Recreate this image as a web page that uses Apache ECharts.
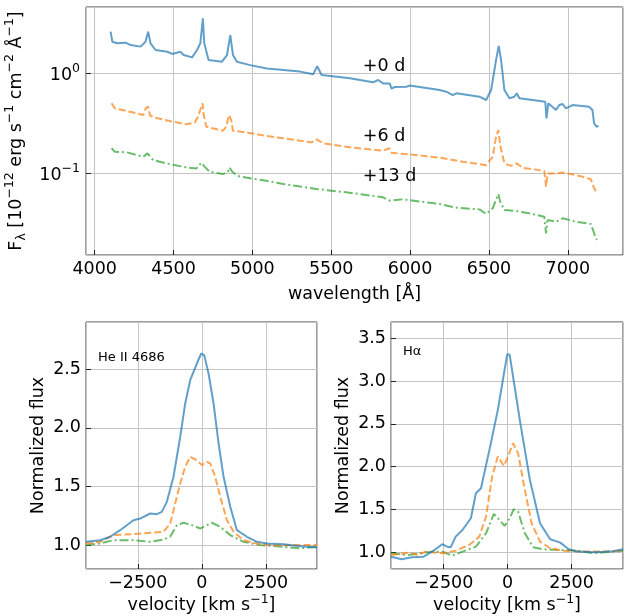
<!DOCTYPE html>
<html><head><meta charset="utf-8">
<script src="https://cdn.jsdelivr.net/npm/echarts@6/dist/echarts.min.js"></script>
<style>html,body{margin:0;padding:0;background:#fff}#c{width:628px;height:616px}</style>
</head><body><div id="c"></div>
<script>
// ---- Top panel: spectra (wavelength [Å], flux [1e-12 erg/s/cm2/Å]) ----
const wl0 = [4101,4112,4143,4196,4228,4291,4322,4339,4354,4386,4460,4491,4544,4564,4618,4649,4670,4686,4695,4722,4807,4839,4860,4877,4902,4986,5092,5197,5302,5386,5411,5439,5618,5765,5797,5829,5871,5882,5903,5977,5997,6187,6229,6271,6293,6440,6482,6514,6545,6562,6577,6598,6630,6661,6676,6693,6777,6857,6865,6876,6925,6946,6967,6988,7030,7135,7156,7167,7182,7195];
const fx0 = [2.64,2.09,2.02,2.05,1.94,1.87,2.09,2.64,2.02,1.73,1.66,1.58,1.66,1.54,1.46,1.73,2.02,3.59,2.02,1.37,1.32,1.54,2.44,1.54,1.32,1.22,1.13,1.09,1.05,0.99,1.19,0.97,0.90,0.82,0.865,0.80,0.80,0.71,0.736,0.74,0.76,0.687,0.66,0.61,0.636,0.588,0.545,0.687,1.37,1.90,1.37,0.687,0.567,0.588,0.636,0.567,0.545,0.524,0.357,0.505,0.433,0.485,0.497,0.45,0.485,0.467,0.433,0.318,0.294,0.30];
const wl6 = [4107,4128,4223,4308,4324,4339,4350,4371,4497,4582,4634,4655,4684,4691,4708,4814,4834,4851,4866,4877,5003,5076,5197,5376,5408,5449,5618,5829,5867,5882,5997,6187,6334,6482,6524,6545,6560,6573,6598,6640,6676,6714,6851,6862,6872,6925,6967,7051,7093,7146,7163,7184];
const fx6 = [0.505,0.450,0.416,0.385,0.450,0.467,0.385,0.365,0.330,0.311,0.323,0.371,0.505,0.385,0.294,0.268,0.294,0.385,0.343,0.268,0.252,0.239,0.225,0.205,0.220,0.200,0.183,0.169,0.179,0.161,0.155,0.144,0.131,0.121,0.147,0.233,0.272,0.185,0.126,0.119,0.126,0.114,0.106,0.0736,0.100,0.100,0.102,0.0964,0.0927,0.0873,0.0736,0.0631];
const wl13 = [4107,4128,4202,4308,4335,4371,4476,4582,4645,4676,4697,4729,4814,4845,4855,4872,4908,4986,5087,5197,5408,5618,5829,5871,5955,6187,6293,6440,6482,6524,6552,6560,6571,6598,6672,6756,6851,6862,6872,6925,6967,7051,7146,7167,7184];
const fx13 = [0.179,0.165,0.163,0.147,0.159,0.136,0.124,0.115,0.112,0.128,0.117,0.104,0.0986,0.104,0.115,0.104,0.0942,0.0893,0.0845,0.0783,0.0698,0.0640,0.0576,0.0532,0.0550,0.0493,0.0453,0.0436,0.0392,0.0447,0.0584,0.0621,0.0520,0.0430,0.0420,0.0398,0.0368,0.0251,0.0341,0.0328,0.0355,0.0328,0.0311,0.0251,0.0215];
const epochLabels = ['+0 d','+6 d','+13 d'];
const epochLabelX = 5700;
const epochLabelY = [1.0, 0.2, 0.08];

// ---- He II 4686 profiles (velocity km/s, normalized flux) ----
const heV0 = [-4518,-3971,-3581,-3190,-2669,-2409,-2018,-1758,-1562,-1367,-1107,-846,-651,-456,-195,-26,91,260,456,651,846,1107,1367,1758,2148,2539,3190,3841,4492];
const heF0 = [1.031,1.045,1.074,1.130,1.215,1.229,1.272,1.266,1.286,1.371,1.584,1.923,2.207,2.405,2.547,2.632,2.618,2.462,2.207,1.867,1.584,1.329,1.130,1.074,1.031,1.017,1.011,0.994,0.983];
const heV6 = [-4518,-3971,-3450,-2669,-2018,-1497,-1237,-1042,-846,-651,-456,-195,0,195,326,521,716,977,1237,1627,2148,2799,3580,4492];
const heF6 = [1.017,1.031,1.088,1.096,1.108,1.116,1.187,1.357,1.527,1.669,1.754,1.725,1.683,1.711,1.697,1.584,1.414,1.215,1.116,1.045,1.017,1.000,1.003,1.003];
const heV13 = [-4518,-3971,-3450,-2669,-2018,-1497,-1237,-976,-716,-391,-65,195,391,716,1107,1627,2278,3190,3841,4492];
const heF13 = [1.003,1.017,1.045,1.045,1.031,1.051,1.074,1.173,1.193,1.173,1.144,1.173,1.193,1.159,1.088,1.031,1.003,0.989,0.975,0.989];

// ---- H-alpha profiles ----
const haV0 = [-4560,-4142,-3746,-3284,-2823,-2559,-2361,-2229,-2031,-1767,-1438,-1240,-1042,-712,-383,-119,-13,79,211,475,870,1266,1662,2058,2388,2717,3377,4036,4510];
const haF0 = [0.949,0.918,0.942,0.949,1.035,1.094,1.066,1.058,1.183,1.261,1.398,1.690,1.748,2.196,2.664,3.132,3.315,3.307,3.054,2.547,1.846,1.339,1.152,1.113,1.035,1.008,1.000,1.008,1.035];
const haV6 = [-4560,-3878,-3482,-3218,-2559,-2031,-1504,-1108,-844,-607,-383,-145,13,211,409,673,936,1266,1662,2190,2981,3772,4510];
const haF6 = [0.969,0.996,0.969,1.008,0.988,1.019,1.086,1.183,1.417,1.885,2.118,2.009,2.118,2.274,2.157,1.729,1.339,1.125,1.047,1.019,1.008,1.008,1.019];
const haV13 = [-4560,-3878,-3218,-2559,-2163,-1767,-1240,-844,-541,-317,-119,79,237,409,673,1002,1398,2058,2717,3377,4036,4510];
const haF13 = [0.988,0.969,1.000,1.008,0.961,1.008,1.066,1.222,1.448,1.378,1.308,1.398,1.503,1.475,1.222,1.058,1.035,1.027,1.019,0.988,1.008,1.019];

const FONT = 'DejaVu Sans';
const FS = 17.5, FSUP = 12.5;
const C0 = 'rgba(31,119,180,0.7)', C6 = 'rgba(255,127,14,0.7)', C13 = 'rgba(44,160,44,0.7)';
const LW = 2;
const styles = [
  {color: C0, width: LW, type: 'solid'},
  {color: C6, width: LW, type: [7, 3]},
  {color: C13, width: LW, type: [9, 3, 2, 3]}
];
function zip(a, b) { return a.map((v, i) => [v, b[i]]); }
function minusFmt(v) { return v < 0 ? '\u2212' + Math.abs(v) : String(v); }

const tickStyle = {show: true, inside: true, length: 5, lineStyle: {color: '#222', width: 1}};
const splitStyle = {show: true, lineStyle: {color: '#c4c4c4', width: 1}};
const noLine = {show: false, onZero: false};
const labelBase = {color: '#000', fontFamily: FONT, fontSize: FS};
const rich = {
  n: {fontFamily: FONT, fontSize: FS, color: '#000', lineHeight: 22, verticalAlign: 'bottom'},
  sup: {fontFamily: FONT, fontSize: FSUP, color: '#000', lineHeight: 22, verticalAlign: 'top'},
  sub: {fontFamily: FONT, fontSize: FSUP, color: '#000', lineHeight: 22, verticalAlign: 'bottom', padding: [0,0,-3,0]}
};

const grids = [
  {left: 86, top: 7, width: 537, height: 248},
  {left: 86, top: 322, width: 231, height: 247},
  {left: 391, top: 322, width: 232, height: 247}
].map(g => Object.assign(g, {show: true, containLabel: false, outerBoundsMode: 'none', borderColor: '#3c3c3c', borderWidth: 1, backgroundColor: 'transparent'}));

const xAxes = [
  {gridIndex: 0, type: 'value', min: 3945, max: 7350, minInterval: 500, maxInterval: 500,
   name: '{n|wavelength [Å]}', nameLocation: 'middle', nameGap: 26, nameTextStyle: {rich},
   axisLine: noLine, axisTick: tickStyle, splitLine: splitStyle,
   axisLabel: Object.assign({}, labelBase, {margin: 5, showMinLabel: false, showMaxLabel: false, formatter: v => String(v)})},
  {gridIndex: 1, type: 'value', min: -4520, max: 4490, minInterval: 2500, maxInterval: 2500,
   name: '{n|velocity [km s}{sup|\u22121}{n|]}', nameLocation: 'middle', nameGap: 23, nameTextStyle: {rich},
   axisLine: noLine, axisTick: tickStyle, splitLine: splitStyle,
   axisLabel: Object.assign({}, labelBase, {margin: 5, showMinLabel: false, showMaxLabel: false, formatter: minusFmt})},
  {gridIndex: 2, type: 'value', min: -4560, max: 4510, minInterval: 2500, maxInterval: 2500,
   name: '{n|velocity [km s}{sup|\u22121}{n|]}', nameLocation: 'middle', nameGap: 23, nameTextStyle: {rich},
   axisLine: noLine, axisTick: tickStyle, splitLine: splitStyle,
   axisLabel: Object.assign({}, labelBase, {margin: 5, showMinLabel: false, showMaxLabel: false, formatter: minusFmt})}
];
const yAxes = [
  {gridIndex: 0, type: 'log', logBase: 10, min: 0.0152, max: 4.67,
   name: '{n|F}{sub|\u03bb}{n| [10}{sup|\u221212}{n| erg s}{sup|\u22121}{n| cm}{sup|\u22122}{n| Å}{sup|\u22121}{n|]}',
   nameLocation: 'middle', nameGap: 50, nameRotate: 90, nameTextStyle: {rich},
   axisLine: noLine, axisTick: tickStyle, splitLine: splitStyle,
   axisLabel: {margin: 6, showMinLabel: false, showMaxLabel: false, rich,
     formatter: v => { const e = Math.round(Math.log10(v)); if (Math.abs(Math.log10(v) - e) > 1e-6) return ''; return '{n|10}{sup|' + (e < 0 ? '\u2212' + (-e) : e) + '}'; }}},
  {gridIndex: 1, type: 'value', min: 0.8, max: 2.9, minInterval: 0.5, maxInterval: 0.5,
   name: '{n|Normalized flux}', nameLocation: 'middle', nameGap: 39, nameRotate: 90, nameTextStyle: {rich},
   axisLine: noLine, axisTick: tickStyle, splitLine: splitStyle,
   axisLabel: Object.assign({}, labelBase, {margin: 5, showMinLabel: false, showMaxLabel: false, formatter: v => v.toFixed(1)})},
  {gridIndex: 2, type: 'value', min: 0.805, max: 3.69, minInterval: 0.5, maxInterval: 0.5,
   name: '{n|Normalized flux}', nameLocation: 'middle', nameGap: 39, nameRotate: 90, nameTextStyle: {rich},
   axisLine: noLine, axisTick: tickStyle, splitLine: splitStyle,
   axisLabel: Object.assign({}, labelBase, {margin: 5, showMinLabel: false, showMaxLabel: false, formatter: v => v.toFixed(1)})}
];

const panels = [
  [zip(wl0, fx0), zip(wl6, fx6), zip(wl13, fx13)],
  [zip(heV0, heF0), zip(heV6, heF6), zip(heV13, heF13)],
  [zip(haV0, haF0), zip(haV6, haF6), zip(haV13, haF13)]
];
const series = [];
panels.forEach((p, gi) => p.forEach((d, k) => {
  series.push({type: 'line', xAxisIndex: gi, yAxisIndex: gi, data: d, showSymbol: false,
    symbol: 'none', lineStyle: styles[k], z: 3 - k, silent: true, clip: true});
}));

const chart = echarts.init(document.getElementById('c'), null, {renderer: 'canvas'});
chart.setOption({animation: false, backgroundColor: '#fff', grid: grids, xAxis: xAxes, yAxis: yAxes, series});

const graphics = epochLabels.map((t, i) => {
  const p = chart.convertToPixel({gridIndex: 0}, [epochLabelX, epochLabelY[i]]);
  return {type: 'text', left: p[0], top: p[1] - 16, style: {text: t, fontFamily: FONT, fontSize: FS, fill: '#000'}, z: 10};
});
graphics.push({type: 'text', left: 98, top: 351, style: {text: 'He II 4686', fontFamily: FONT, fontSize: 13, fill: '#000'}, z: 10});
graphics.push({type: 'text', left: 403, top: 345, style: {text: 'H\u03b1', fontFamily: FONT, fontSize: 13, fill: '#000'}, z: 10});
chart.setOption({graphic: graphics});
</script></body></html>
